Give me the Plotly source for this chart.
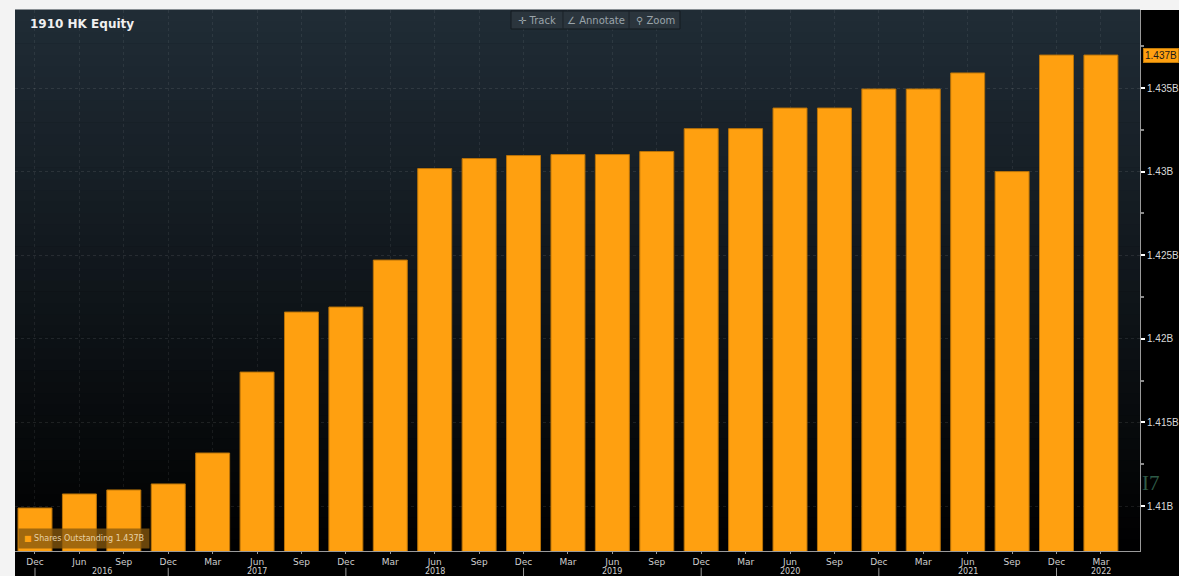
import plotly.graph_objects as go

# ---- data ----
months = ["Dec", "Jun", "Sep", "Dec", "Mar", "Jun", "Sep", "Dec", "Mar", "Jun", "Sep", "Dec",
          "Mar", "Jun", "Sep", "Dec", "Mar", "Jun", "Sep", "Dec", "Mar", "Jun", "Sep", "Dec", "Mar"]
shares_b = [1.40988, 1.41072, 1.41096, 1.41132, 1.41317, 1.41801, 1.42160, 1.42190, 1.42471,
            1.43018, 1.43078, 1.43096, 1.43102, 1.43102, 1.43120, 1.43257, 1.43257, 1.43380,
            1.43380, 1.43494, 1.43494, 1.43590, 1.43000, 1.43697, 1.43697]
year_labels = ["2016", "2017", "2018", "2019", "2020", "2021", "2022"]
year_pos = [1.5, 5, 9, 13, 17, 21, 24]
y_tickvals_b = [1.41, 1.415, 1.42, 1.425, 1.43, 1.435]
y_ticktext = ["1.41B", "1.415B", "1.42B", "1.425B", "1.43B", "1.435B"]
last_label = "1.437B"
series_name = "Shares Outstanding"

x_idx = list(range(len(months)))
shares = [v * 1e9 for v in shares_b]
dec_idx = [i for i, m in enumerate(months) if m == "Dec"]

BAR = "#ffa010"

fig = go.Figure()
fig.add_trace(go.Bar(
    x=x_idx, y=shares, name=series_name,
    marker=dict(color=BAR, line=dict(color="#b87208", width=1)),
    showlegend=False, hoverinfo="y",
))

shapes = []
# black page area (right of / below plot)
shapes.append(dict(type="rect", xref="paper", yref="paper", x0=0, x1=1.04, y0=-0.06, y1=1,
                   fillcolor="#000000", line=dict(width=0), layer="below"))
# vertical gradient inside plot area
N = 48
top = (32, 44, 54)
for k in range(N):
    f0 = k / N
    f1 = (k + 1) / N
    t = (f0 + f1) / 2  # 0 bottom -> 1 top
    c = tuple(int(round(v * t)) for v in top)
    shapes.append(dict(type="rect", xref="paper", yref="paper", x0=0, x1=1, y0=f0, y1=f1 + 0.001,
                       fillcolor="rgb(%d,%d,%d)" % c, line=dict(width=0), layer="below"))
# Dec separators below axis
for i in dec_idx:
    shapes.append(dict(type="line", xref="x", yref="paper", x0=i, x1=i, y0=-0.031, y1=-0.05,
                       line=dict(color="#9a9a9a", width=1)))
# toolbar
shapes.append(dict(type="rect", xref="paper", yref="paper", x0=0.4409, x1=0.5911, y0=0.9649, y1=0.9982,
                   fillcolor="#2b353d", line=dict(color="#151b20", width=1)))
for xd in (0.4871, 0.5458):
    shapes.append(dict(type="line", xref="paper", yref="paper", x0=xd, x1=xd, y0=0.9649, y1=0.9982,
                       line=dict(color="#1b2228", width=1)))

annotations = []
annotations.append(dict(text="<b>1910 HK Equity</b>", xref="paper", yref="paper", x=0.0116, y=0.974,
                        xanchor="left", yanchor="middle", showarrow=False,
                        font=dict(family="DejaVu Sans", size=12, color="#f0f0f0")))
for txt, xp in (("✛ Track", 0.464), ("∠ Annotate", 0.5164), ("⚲ Zoom", 0.5689)):
    annotations.append(dict(text=txt, xref="paper", yref="paper", x=xp, y=0.9815,
                            xanchor="center", yanchor="middle", showarrow=False,
                            font=dict(family="DejaVu Sans", size=10, color="#9aa4aa")))
for yl, xp in zip(year_labels, year_pos):
    annotations.append(dict(text=yl, xref="x", yref="paper", x=xp, y=-0.0385,
                            xanchor="center", yanchor="middle", showarrow=False,
                            font=dict(family="DejaVu Sans", size=8, color="#cfcfcf")))
annotations.append(dict(text='<span style="color:%s">■</span> %s %s' % (BAR, series_name, last_label),
                        xref="paper", yref="paper", x=0.0027, y=0.004, xanchor="left", yanchor="bottom",
                        showarrow=False, bgcolor="rgba(135,88,14,0.78)", borderpad=5,
                        font=dict(family="DejaVu Sans", size=8, color="#e8d2a8")))
annotations.append(dict(text=last_label, xref="paper", yref="y", x=1.0027, y=shares[-1],
                        xanchor="left", yanchor="middle", showarrow=False, bgcolor=BAR,
                        bordercolor="#c07a08", borderwidth=1, borderpad=1,
                        font=dict(family="Liberation Sans", size=10, color="#1a1a1a")))
annotations.append(dict(text="I7", xref="paper", yref="paper", x=1.0, y=0.1257,
                        xanchor="left", yanchor="middle", showarrow=False,
                        font=dict(family="Liberation Serif", size=21, color="#2e5b47")))

fig.update_layout(
    width=1179, height=576,
    margin=dict(l=15, r=39, t=10, b=25),
    paper_bgcolor="#f3f3f3",
    plot_bgcolor="rgba(0,0,0,0)",
    bargap=0.235,
    shapes=shapes,
    annotations=annotations,
    xaxis=dict(
        range=[-0.45, 24.88], tickmode="array", tickvals=x_idx, ticktext=months,
        ticks="outside", ticklen=2, tickcolor="#9a9a9a", automargin=False,
        tickfont=dict(family="DejaVu Sans", size=9, color="#cfcfcf"),
        showline=True, linecolor="#9a9a9a", linewidth=1,
        showgrid=True, gridcolor="rgba(255,255,255,0.07)", griddash="dot", zeroline=False,
    ),
    yaxis=dict(
        side="right", range=[1.407309e9, 1.439665e9], tickmode="array",
        tickvals=[v * 1e9 for v in y_tickvals_b], ticktext=y_ticktext,
        ticks="outside", ticklen=4, tickwidth=2, tickcolor="#ffffff", automargin=False,
        tickfont=dict(family="Liberation Sans", size=10, color="#d8d8d8"),
        showline=True, linecolor="#9a9a9a", linewidth=1,
        showgrid=True, gridcolor="rgba(255,255,255,0.09)", griddash="dot", zeroline=False,
        minor=dict(tickvals=[(v + 0.0025) * 1e9 for v in [1.4075] + y_tickvals_b],
                   ticks="outside", ticklen=3, tickcolor="#8a8a8a", showgrid=False),
    ),
)

fig.write_html("out.html", config={"displayModeBar": False},
               post_script="document.body.style.margin='0';document.body.style.overflow='hidden';")
